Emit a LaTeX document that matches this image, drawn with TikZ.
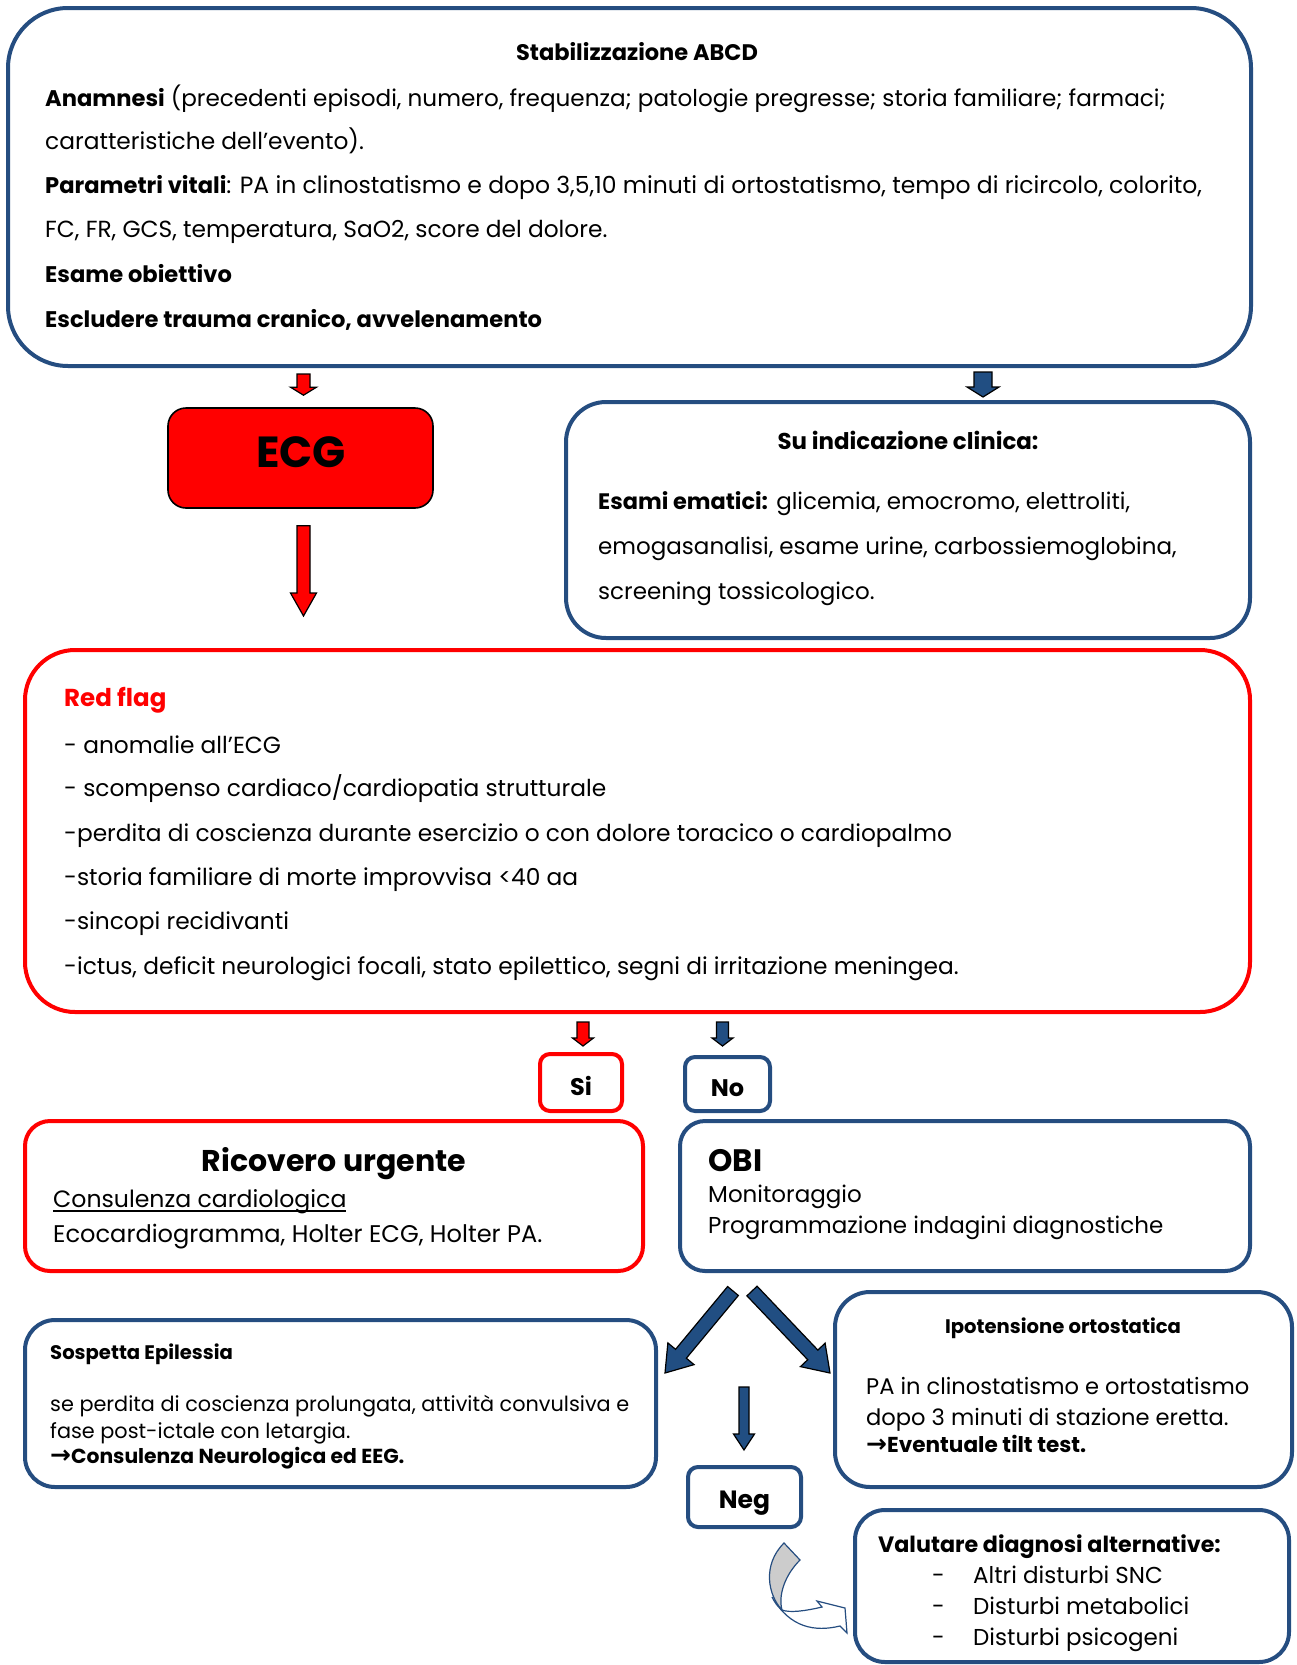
\documentclass[tikz,border=0pt]{standalone}
\usepackage{fontspec}
\setmainfont{Poppins}
\newfontfamily\symfont{DejaVu Sans}
\usetikzlibrary{calc}
\definecolor{boxblue}{RGB}{37,77,128}
\definecolor{arrowblue}{RGB}{33,78,130}
\definecolor{flagred}{RGB}{255,0,0}
\newcommand{\fs}[1]{\fontsize{#1}{#1}\selectfont}
\newcommand{\thickul}[1]{\setbox0\hbox{#1}\rlap{\rule[-4.5pt]{\wd0}{1.8pt}}\box0}
\newcommand{\rarr}{{\symfont\bfseries\fs{25}→}}
% box from its two corners, as a named node
\newcommand{\panel}[6]{%
  \node[#1, minimum width={#5-#3}, minimum height={#6-#4}, inner sep=0pt]
    (#2) at ({(#3+#5)/2},{(#4+#6)/2}) {};}
% fat arrow: from, to, fill, shaft half width, head half width, head length
\newcommand{\blockarrow}[6]{%
  \coordinate (ba-h) at ($(#2)!#6!(#1)$);
  \draw[arrowline, fill=#3]
    ($(#1)!#4!90:(#2)$) -- ($(ba-h)!#4!90:(#2)$) -- ($(ba-h)!#5!90:(#2)$)
    -- (#2) -- ($(ba-h)!#5!-90:(#2)$) -- ($(ba-h)!#4!-90:(#2)$)
    -- ($(#1)!#4!-90:(#2)$) -- cycle;}
\tikzset{
  bluebox/.style={draw=boxblue, line width=4pt, rounded corners=#1},
  redbox/.style={draw=flagred, line width=4pt, rounded corners=#1},
  ecgbox/.style={draw=black, fill=flagred, line width=1.6pt, rounded corners=18pt},
  txt/.style={anchor=base west, inner sep=0pt},
  ctxt/.style={anchor=base, inner sep=0pt},
  arrowline/.style={draw=black, line width=1.2pt, line join=miter},
}

\begin{document}
\begin{tikzpicture}[x=1pt, y=-1pt, font=\fs{23.3}]
  \useasboundingbox (0,0) rectangle (1296,1665);
  % boxes
  \panel{bluebox=60pt}{abcd}{8}{8}{1251}{366}
  \panel{bluebox=40pt}{clin}{566}{402}{1250}{638}
  \panel{ecgbox}{ecg}{168}{408}{433}{508}
  \panel{redbox=50pt}{flag}{25}{650}{1250}{1012}
  \panel{redbox=10pt}{si}{540}{1054}{622}{1111}
  \panel{bluebox=10pt}{no}{685}{1057}{770}{1111}
  \panel{redbox=25pt}{ric}{25}{1121}{643}{1271}
  \panel{bluebox=25pt}{obi}{680}{1121}{1250}{1271}
  \panel{bluebox=30pt}{epi}{25}{1320}{656}{1487}
  \panel{bluebox=35pt}{ipo}{835}{1292}{1292}{1487}
  \panel{bluebox=10pt}{neg}{688}{1467}{801}{1527}
  \panel{bluebox=30pt}{alt}{855}{1510}{1289}{1662}

  % stabilizzazione
  \node[ctxt, font=\fs{22.5}\bfseries] (abcdt) at (637,60) {Stabilizzazione ABCD};
  \node[txt] (abcd1) at (45,106) {\fs{22.6}\textbf{Anamnesi} \fs{23.1}(precedenti episodi, numero, frequenza; patologie pregresse; storia familiare; farmaci;};
  \node[txt] (abcd2) at (45,149) {caratteristiche dell’evento).};
  \node[txt] (abcd3) at (45,193) {\fs{22.6}\textbf{Parametri vitali}\fs{23.5}: PA in clinostatismo e dopo 3,5,10 minuti di ortostatismo, tempo di ricircolo, colorito,};
  \node[txt] (abcd4) at (45,237) {FC, FR, GCS, temperatura, SaO2, score del dolore.};
  \node[txt, font=\fs{22.6}\bfseries] (abcd5) at (45,282) {Esame obiettivo};
  \node[txt, font=\fs{22.6}\bfseries] (abcd6) at (45,327) {Escludere trauma cranico, avvelenamento};

  % ECG and esami
  \node[ctxt, font=\fs{43.5}\bfseries] (ecgt) at (301,467) {ECG};
  \node[ctxt, font=\fs{22.9}\bfseries] (clint) at (908,449) {Su indicazione clinica:};
  \node[txt] (clin1) at (598,509) {\fs{22.4}\textbf{Esami ematici:}\fs{23} glicemia, emocromo, elettroliti,};
  \node[txt, font=\fs{23}] (clin2) at (598,554) {emogasanalisi, esame urine, carbossiemoglobina,};
  \node[txt, font=\fs{23}] (clin3) at (598,599) {screening tossicologico.};

  % red flag
  \node[txt, font=\fs{24.5}\bfseries, text=flagred] (flagt) at (64,706) {Red flag};
  \node[txt] (flag1) at (64,753) {- anomalie all’ECG};
  \node[txt] (flag2) at (64,796) {- scompenso cardiaco/cardiopatia strutturale};
  \node[txt] (flag3) at (64,841) {-perdita di coscienza durante esercizio o con dolore toracico o cardiopalmo};
  \node[txt] (flag4) at (64,885) {-storia familiare di morte improvvisa <40 aa};
  \node[txt] (flag5) at (64,929) {-sincopi recidivanti};
  \node[txt] (flag6) at (64,974) {-ictus, deficit neurologici focali, stato epilettico, segni di irritazione meningea.};

  % si / no
  \node[ctxt, font=\fs{24}\bfseries] (sit) at (si.center |- 0,1095) {Si};
  \node[ctxt, font=\fs{24}\bfseries] (not) at (no.center |- 0,1096) {No};

  % ricovero / obi
  \node[ctxt, font=\fs{30}\bfseries] (rict) at (334,1171) {Ricovero urgente};
  \node[txt, font=\fs{23.6}] (ric1) at (53,1207) {\thickul{Consulenza cardiologica}};
  \node[txt, font=\fs{24.1}] (ric2) at (53,1242) {Ecocardiogramma, Holter ECG, Holter PA.};
  \node[txt, font=\fs{31}\bfseries] (obit) at (708,1171) {OBI};
  \node[txt, font=\fs{23}] (obi1) at (708,1202) {Monitoraggio};
  \node[txt, font=\fs{23}] (obi2) at (708,1233) {Programmazione indagini diagnostiche};

  % epilessia / ipotensione
  \node[txt, font=\fs{19.6}\bfseries] (epit) at (50,1359) {Sospetta Epilessia};
  \node[txt, font=\fs{20.8}] (epi1) at (50,1411) {se perdita di coscienza prolungata, attività convulsiva e};
  \node[txt, font=\fs{20.8}] (epi2) at (50,1438) {fase post-ictale con letargia.};
  \node[txt, font=\fs{20.3}\bfseries] (epi3) at (50,1463) {\rarr Consulenza Neurologica ed EEG.};
  \node[ctxt, font=\fs{19.6}\bfseries] (ipot) at (1063,1333) {Ipotensione ortostatica};
  \node[txt, font=\fs{22.6}] (ipo1) at (866,1394) {PA in clinostatismo e ortostatismo};
  \node[txt, font=\fs{22.6}] (ipo2) at (866,1425) {dopo 3 minuti di stazione eretta.};
  \node[txt, font=\fs{21.6}\bfseries] (ipo3) at (866,1452) {\rarr Eventuale tilt test.};

  % neg / alternative
  \node[ctxt, font=\fs{25}\bfseries] (negt) at (neg.center |- 0,1508) {Neg};
  \node[txt, font=\fs{22.2}\bfseries] (altt) at (878,1552) {Valutare diagnosi alternative:};
  \foreach \i/\t in {1/Altri disturbi SNC, 2/Disturbi metabolici, 3/Disturbi psicogeni}{
    \node[txt, font=\fs{23}] (altd\i) at (932,1552+31*\i) {-};
    \node[txt, font=\fs{23}] (alt\i) at (973,1552+31*\i) {\t};
  }

  % arrows
  \coordinate (a1s) at ($(abcd.south -| ecg.north)+(3,6)$);
  \coordinate (a1e) at ($(ecg.north)+(3,-12)$);
  \blockarrow{a1s}{a1e}{flagred}{6.5pt}{13pt}{8pt}
  \coordinate (a2s) at (983,372);
  \coordinate (a2e) at (983,397);
  \blockarrow{a2s}{a2e}{arrowblue}{9pt}{16pt}{10pt}
  \coordinate (a3s) at ($(ecg.south)+(3,17)$);
  \coordinate (a3e) at ($(flag.north -| a3s)+(0,-32)$);
  \blockarrow{a3s}{a3e}{flagred}{6.5pt}{13pt}{23pt}
  \coordinate (a4s) at ($(flag.south -| si.north)+(2,8)$);
  \coordinate (a4e) at ($(si.north)+(2,-6)$);
  \blockarrow{a4s}{a4e}{flagred}{6pt}{10.5pt}{8pt}
  \coordinate (a5s) at ($(flag.south -| no.north)+(-5,8)$);
  \coordinate (a5e) at ($(no.north)+(-5,-9)$);
  \blockarrow{a5s}{a5e}{arrowblue}{6pt}{10.5pt}{8pt}
  \coordinate (a6s) at (733,1291);
  \coordinate (a6e) at (665,1373);
  \blockarrow{a6s}{a6e}{arrowblue}{7pt}{17pt}{25pt}
  \coordinate (a7s) at (752,1291);
  \coordinate (a7e) at (830,1373);
  \blockarrow{a7s}{a7e}{arrowblue}{7pt}{17pt}{25pt}
  \coordinate (a8s) at (744,1387);
  \coordinate (a8e) at ($(neg.north -| a8s)+(0,-15)$);
  \blockarrow{a8s}{a8e}{arrowblue}{5pt}{10.5pt}{16pt}

  % curved arrow to the alternatives
  \draw[boxblue, line width=1.2pt, fill=white] (782,1610)
    .. controls (790,1613) and (805,1611) .. (822,1607) -- (817,1601)
    -- (845,1608) -- (847,1633) -- (840,1626)
    .. controls (815,1632) and (790,1628) .. (772,1597)
    .. controls (775,1603) and (778,1607) .. (782,1610) -- cycle;
  \draw[boxblue, line width=1.2pt, fill=gray!40] (784,1543) -- (800,1560)
    .. controls (785,1575) and (778,1595) .. (782,1610)
    .. controls (768,1595) and (762,1565) .. (784,1543) -- cycle;
\end{tikzpicture}
\end{document}
